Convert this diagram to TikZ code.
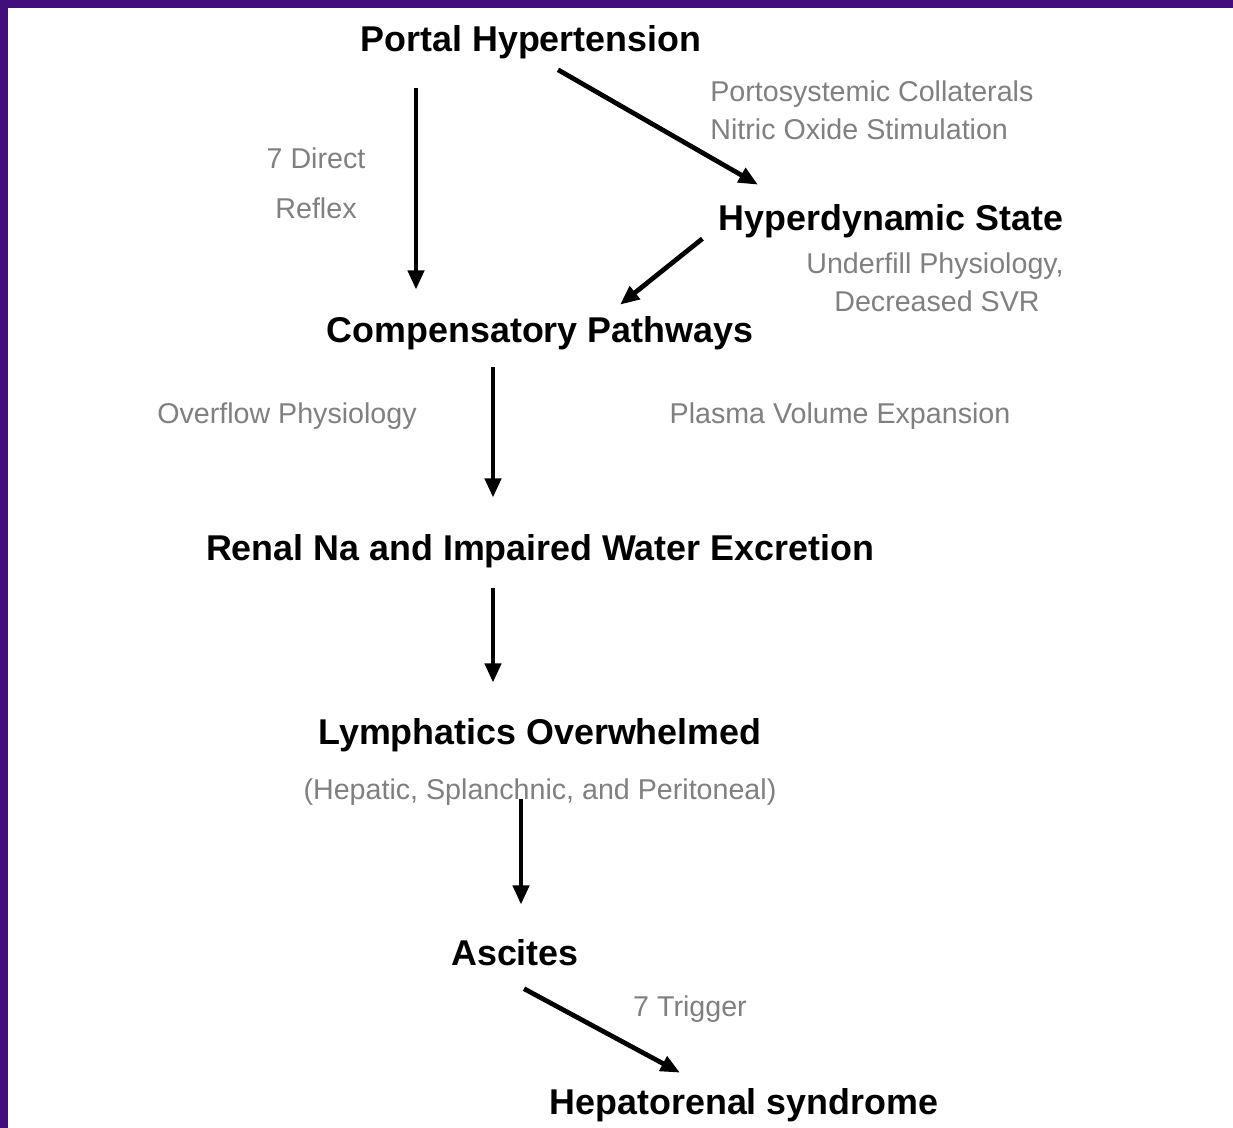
\documentclass[tikz,border=0pt]{standalone}
\usepackage{fontspec}
\setmainfont{Liberation Sans}
\usetikzlibrary{calc}
\usetikzlibrary{arrows.meta}
\definecolor{slidepurple}{RGB}{66,14,124}

\begin{document}
\begin{tikzpicture}[x=0.02cm,y=-0.02cm,
  stage/.style={inner sep=0pt,anchor=base,font=\fontsize{20.4}{24}\selectfont\bfseries},
  remark/.style={inner sep=0pt,anchor=base,text=black!50,font=\fontsize{16.3}{19}\selectfont},
  flow/.style={line width=2.7pt,-{Triangle[length=11pt,width=9pt]}}]
\useasboundingbox (0,0) rectangle (1233,1128);
\fill[white] (0,0) rectangle (1233,1128);
\fill[slidepurple] (0,0) rectangle (8,1128); %slide border
\fill[slidepurple] (0,0) rectangle (1233,8);

\node[stage] (ph) at (531,52) {Portal Hypertension}; %main stages
\node[stage] (hs) at (891,231) {Hyperdynamic State};
\node[stage] (comp) at (540,342) {Compensatory Pathways};
\node[stage] (renal) at (540,560) {Renal Na and Impaired Water Excretion};
\node[stage] (lymph) at (540,744) {Lymphatics Overwhelmed};
\node[stage] (asc) at (515,965) {Ascites};
\node[stage] (hrs) at (744,1114) {Hepatorenal syndrome};

\node[remark,anchor=base west] (colla) at (710,102) {Portosystemic Collaterals}; %grey notes
\node[remark,anchor=base west] (nitric) at (710,140) {Nitric Oxide Stimulation};
\node[remark] (direct) at (316,169) {7 Direct};
\node[remark] (reflex) at (316,219) {Reflex};
\node[remark] (under) at (935,274) {Underfill Physiology,};
\node[remark] (svr) at (937,312) {Decreased SVR};
\node[remark] (over) at (287,423) {Overflow Physiology};
\node[remark] (plasma) at (840,423) {Plasma Volume Expansion};
\node[remark] (lymphnote) at (540,799) {(Hepatic, Splanchnic, and Peritoneal)};
\node[remark] (trigger) at (690,1016) {7 Trigger};

\draw[flow] ($(ph.south)+(-115,28)$) -- ($(comp.north)+(-124,-26)$); %arrows
\draw[flow] ($(ph.south)+(27,10)$) -- ($(hs.north)+(-133,-20)$);
\draw[flow] ($(hs.west)+(-16,17)$) -- ($(comp.north)+(80,-11)$);
\draw[flow] ($(comp.south)+(-47,17)$) -- ($(renal.north)+(-47,-36)$);
\draw[flow] ($(renal.south)+(-47,20)$) -- ($(lymph.north)+(-47,-35)$);
\draw[flow] ($(lymphnote.south)+(-19,-6)$) -- ($(asc.north)+(6,-34)$);
\draw[flow] ($(asc.south)+(9,23)$) -- ($(hrs.north)+(-64,-15)$);

\end{tikzpicture}
\end{document}
